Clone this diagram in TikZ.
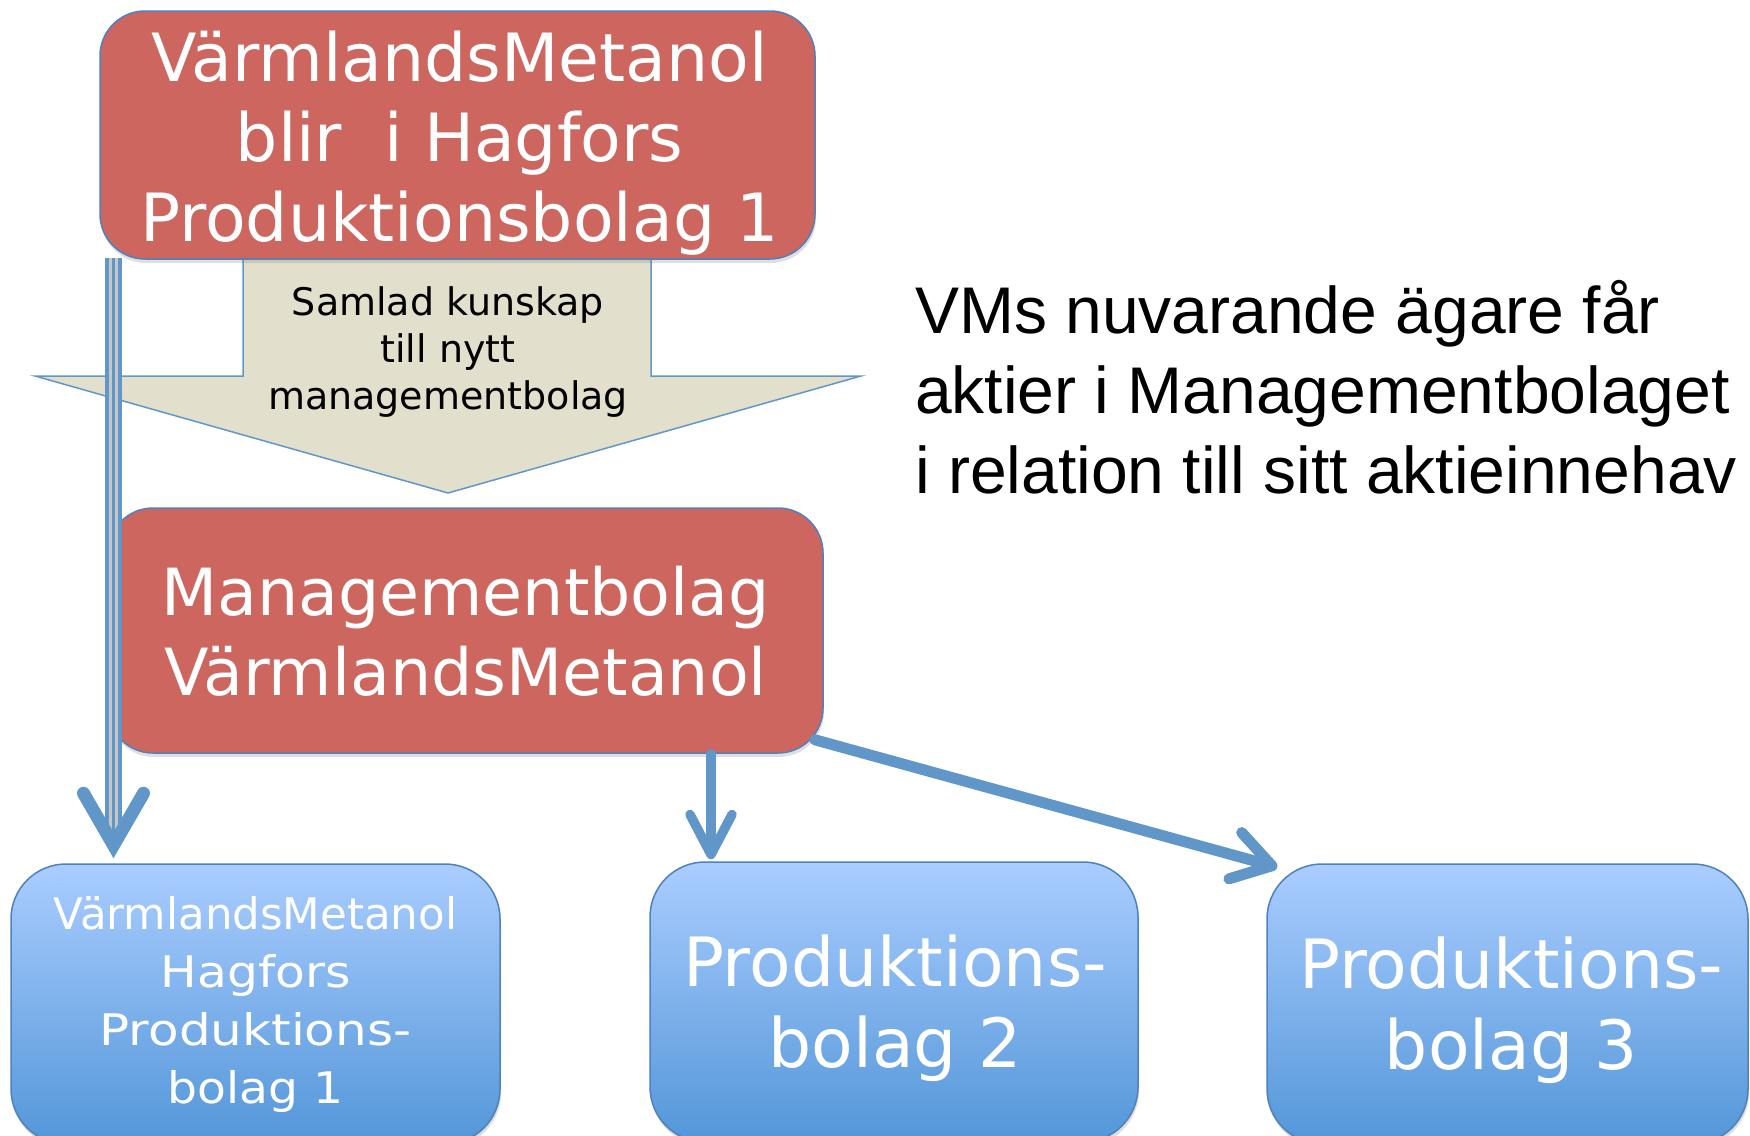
\documentclass[tikz,border=0pt]{standalone}
\usepackage{graphicx}
\usepackage{fontspec}
\setmainfont{DejaVu Sans}
\newfontfamily\arialf{Liberation Sans}
\usetikzlibrary{arrows.meta,shadows,calc}
\definecolor{redfill}{RGB}{205,102,95}
\definecolor{edgeblue}{RGB}{79,129,189}
\definecolor{arrowblue}{RGB}{96,150,200}
\definecolor{beige}{RGB}{226,223,204}
\definecolor{btop}{RGB}{170,205,255}
\definecolor{bbot}{RGB}{83,150,216}
\newcommand\fBig{\fontsize{66.5}{80}\selectfont}
\newcommand\fMidBig{\fontsize{65}{80}\selectfont}
\newcommand\fProd{\fontsize{68}{81}\selectfont}
\newcommand\fMid{\fontsize{43.5}{58}\selectfont}
\newcommand\fSmall{\fontsize{38}{47}\selectfont}
\newcommand\fNote{\arialf\fontsize{66}{80}\selectfont}
\begin{document}
\begin{tikzpicture}[x=1pt,y=-1pt,
  redbox/.style={draw=edgeblue, line width=1.5pt, fill=redfill, rounded corners=45pt,
    inner sep=0pt,
    drop shadow={opacity=0.25, shadow xshift=1pt, shadow yshift=-4pt}},
  bluebox/.style={draw=edgeblue, line width=1.5pt, top color=btop, bottom color=bbot,
    rounded corners=55pt, inner sep=0pt,
    drop shadow={opacity=0.25, shadow xshift=1pt, shadow yshift=-4pt}},
  boxtext/.style={text=white, align=center, inner sep=0pt},
  conn/.style={draw=arrowblue, line cap=round, line join=round},
  strand/.style={draw=arrowblue, line width=3.6pt},
]
\useasboundingbox (0,0) rectangle (1750,1135);

% knowledge block arrow
\draw[fill=beige, draw=arrowblue, line width=1.5pt]
  (243,250) -- (651,250) -- (651,376) -- (861,376) -- (448,493) -- (35,376) -- (243,376) -- cycle;
\node[font=\fSmall, align=center, inner sep=0pt] (know) at (448,352)
  {Samlad kunskap\\till nytt\\managementbolag};

% boxes
\node[redbox, minimum width=715pt, minimum height=248pt] (top) at (457.5,135) {};
\node[boxtext, font=\fBig] (toptext) at (459.5,143)
  {VärmlandsMetanol\\blir\ \ i Hagfors\\Produktionsbolag 1};
\node[redbox, minimum width=715pt, minimum height=245pt] (mid) at (465.5,630.5) {};
\node[boxtext, font=\fMidBig] (midtext) at (465.5,631.5)
  {Managementbolag\\VärmlandsMetanol};
\node[bluebox, minimum width=489pt, minimum height=280pt] (b1) at (255.5,1004) {};
\node[boxtext, font=\fMid] (b1text) at (255.5,1004)
  {VärmlandsMetanol\\\scalebox{1.12}[1]{Hagfors}\\\scalebox{1.15}[1]{Produktions-}\\\scalebox{1.085}[1]{bolag 1}};
\node[bluebox, minimum width=488pt, minimum height=280pt] (b2) at (894,1002) {};
\node[boxtext, font=\fProd] (b2text) at (895,1008)
  {Produktions-\\bolag 2};
\node[bluebox, minimum width=481pt, minimum height=280pt] (b3) at (1507.5,1004) {};
\node[boxtext, font=\fProd] (b3text) at (1511.5,1010)
  {Produktions-\\bolag 3};

% note
\node[font=\fNote, align=left, anchor=west, inner sep=0pt] (note) at (915,387.5)
  {VMs nuvarande ägare får\\aktier i Managementbolaget\\i relation till sitt aktieinnehav};

% connectors
\coordinate (a1) at (113.5,0);
\draw[black!22, line width=17pt] ($(top.south -| a1)+(0,-2)$) -- ($(b1.north -| a1)+(0,-30)$);
\draw[strand] ($(top.south -| a1)+(-6.5,-2)$) -- ($(b1.north -| a1)+(-6.5,-30)$);
\draw[strand] ($(top.south -| a1)+(0,-2)$) -- ($(b1.north -| a1)+(0,-30)$);
\draw[strand] ($(top.south -| a1)+(6.5,-2)$) -- ($(b1.north -| a1)+(6.5,-30)$);
\draw[conn, line width=13pt, line join=miter]
  ($(b1.north -| a1)+(-30,-70)$) -- ($(b1.north -| a1)+(0,-18)$) -- ($(b1.north -| a1)+(30,-70)$);

\coordinate (a2) at (711,0);
\draw[conn, line width=9.5pt, -{Straight Barb[round,length=40pt,width=42pt]}]
  (mid.south -| a2) -- ($(b2.north -| a2)+(0,-2)$);
\draw[conn, line width=11pt, -{Straight Barb[round,length=38pt,width=48pt]}]
  ($(mid.south east)+(-9,-14)$) -- ($(b3.north west)+(11,4)$);
\end{tikzpicture}
\end{document}
